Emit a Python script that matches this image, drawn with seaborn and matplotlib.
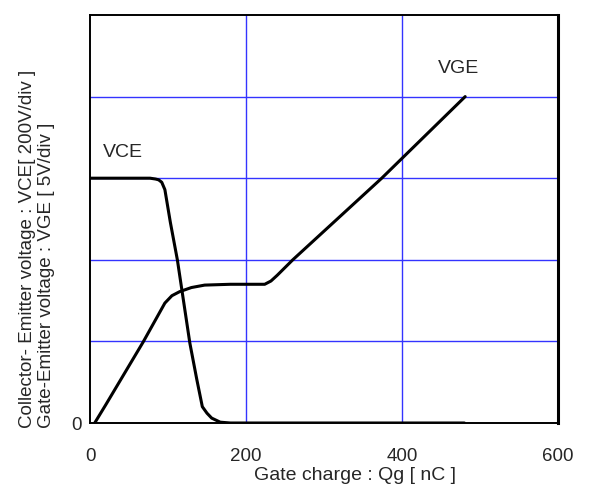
import matplotlib
matplotlib.use("Agg")
import matplotlib.pyplot as plt
import seaborn as sns
import pandas as pd
from matplotlib.ticker import MultipleLocator, FixedLocator

# Gate charge waveform, voltages in grid divisions
vce_q = [0, 77, 84, 88, 92, 96, 103, 112, 128, 137, 144, 150, 156, 167, 180, 480]
vce_v = [3.0, 3.0, 2.99, 2.98, 2.95, 2.86, 2.46, 2.0, 0.98, 0.53, 0.2, 0.12, 0.06, 0.01, 0.0, 0.0]

vge_q = [6, 20, 68, 96, 105, 115, 130, 147, 180, 224, 232, 240, 260, 374, 481]
vge_v = [0.0, 0.22, 0.99, 1.47, 1.56, 1.61, 1.66, 1.69, 1.70, 1.70, 1.74, 1.81, 2.0, 3.0, 4.0]

x_ticks = [0, 200, 400, 600]
x_tick_labels = ["0", "200", "400", "600"]

sns.set_style("white")
plt.rcParams["font.family"] = ["Liberation Sans", "DejaVu Sans"]

fig = plt.figure(figsize=(5.9, 4.91), dpi=100)
ax = fig.add_axes([90 / 590, 1 - 423 / 491, 468 / 590, 408 / 491])

vce = pd.DataFrame({"q": vce_q, "v": vce_v})
vge = pd.DataFrame({"q": vge_q, "v": vge_v})

# Blue division grid
for gx in (200, 400):
    ax.axvline(gx, color="#3333ff", lw=1.0, zorder=1)
for gy in (1, 2, 3, 4):
    ax.axhline(gy, color="#3333ff", lw=1.0, zorder=1)

sns.lineplot(data=vce, x="q", y="v", ax=ax, color="black", lw=2.2,
             estimator=None, sort=False, zorder=3)
sns.lineplot(data=vge, x="q", y="v", ax=ax, color="black", lw=2.2,
             estimator=None, sort=False, zorder=3)

ax.set_xlim(0, 600)
ax.set_ylim(0, 5)
ax.xaxis.set_major_locator(FixedLocator(x_ticks))
ax.set_xticklabels(x_tick_labels)
ax.xaxis.set_minor_locator(MultipleLocator(50))
ax.set_yticks([0])
ax.set_yticklabels(["0"])
ax.tick_params(axis="x", which="both", direction="in", length=5, width=1,
               labelsize=13.5, pad=18, color="black")
ax.tick_params(axis="y", which="both", length=0, labelsize=13.5, pad=6)
ax.set_xlabel("")
ax.set_ylabel("")

for side in ("left", "right", "top", "bottom"):
    ax.spines[side].set_visible(True)
    ax.spines[side].set_color("black")
    ax.spines[side].set_linewidth(1.4)
ax.spines["right"].set_linewidth(2.2)

ax.text(17, 3.32, "VCE", fontsize=14, ha="left", va="center")
ax.text(472, 4.35, "VGE", fontsize=14, ha="center", va="center")

fig.text(355 / 590, 1 - 476 / 491, "Gate charge : Qg [ nC ]",
         fontsize=14, ha="center", va="center")
fig.text(28 / 590, 1 - 428 / 491, "Collector- Emitter voltage : VCE[ 200V/div ]",
         rotation=90, fontsize=13.5, ha="center", va="bottom")
fig.text(47 / 590, 1 - 428 / 491, "Gate-Emitter voltage : VGE [ 5V/div ]",
         rotation=90, fontsize=13.5, ha="center", va="bottom")

fig.savefig("out.png", dpi=100)
